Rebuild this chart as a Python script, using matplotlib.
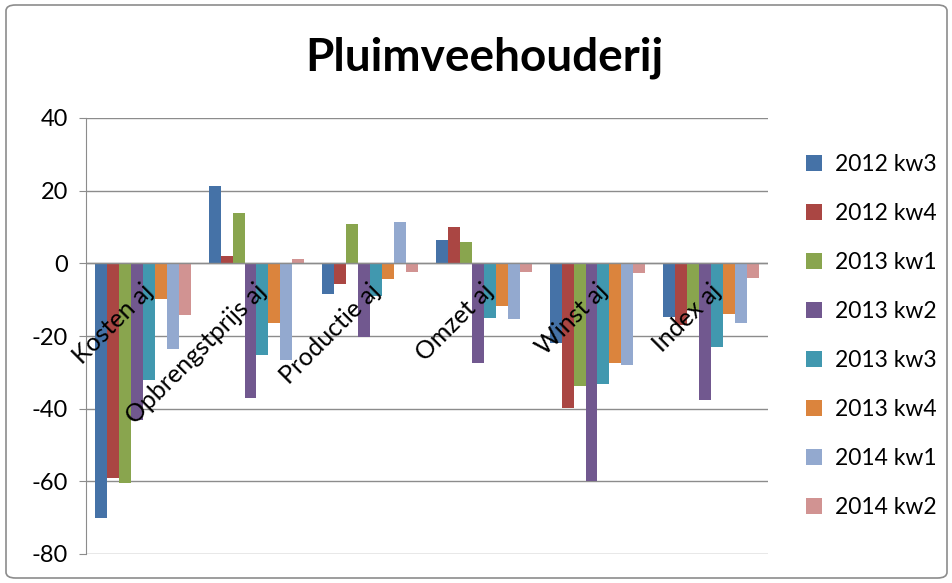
import matplotlib.pyplot as plt
import numpy as np
from matplotlib.patches import FancyBboxPatch

plt.rcParams['font.family'] = ['Lato', 'DejaVu Sans']
plt.rcParams['axes.unicode_minus'] = False

categories = ["Kosten aj", "Opbrengstprijs aj", "Productie aj", "Omzet aj", "Winst aj", "Index aj"]
series = ["2012 kw3", "2012 kw4", "2013 kw1", "2013 kw2", "2013 kw3", "2013 kw4", "2014 kw1", "2014 kw2"]
kw3_2012 = [-70.0, 21.3, -8.5, 6.4, -21.9, -14.7]
kw4_2012 = [-59.0, 2.0, -5.7, 10.1, -39.7, -17.0]
kw1_2013 = [-60.4, 13.9, 10.7, 5.8, -33.8, -12.9]
kw2_2013 = [-43.2, -37.2, -20.2, -27.4, -60.0, -37.6]
kw3_2013 = [-32.1, -25.3, -8.9, -15.0, -33.3, -23.1]
kw4_2013 = [-9.9, -16.4, -4.4, -11.8, -27.4, -14.0]
kw1_2014 = [-23.7, -26.6, 11.5, -15.3, -28.0, -16.3]
kw2_2014 = [-14.2, 1.2, -2.3, -2.3, -2.6, -4.0]
values = [kw3_2012, kw4_2012, kw1_2013, kw2_2013, kw3_2013, kw4_2013, kw1_2014, kw2_2014]

colors = ['#4572A7', '#AA4643', '#89A54E', '#71588F', '#4198AF', '#DB843D', '#93A9CF', '#D19392']

fig = plt.figure(figsize=(9.53, 5.83), dpi=100)
ax = fig.add_axes([86/953, 1-554/583, (768-86)/953, (554-118)/583])

x = np.arange(len(categories))
w = 1 / 9.5
for i, (name, vals) in enumerate(zip(series, values)):
    ax.bar(x + (i - 3.5) * w, vals, width=w, color=colors[i], label=name, zorder=3)

ax.set_xlim(-0.5, len(categories) - 0.5)
ax.set_ylim(-80, 40)
ax.set_yticks(range(-80, 41, 20))
ax.yaxis.grid(True, color='#8c8c8c', linewidth=1, zorder=0)
ax.axhline(0, color='#8c8c8c', linewidth=1, zorder=4)
ax.tick_params(axis='y', labelsize=17, length=5, color='#8c8c8c', pad=8)
ax.set_xticks([])
for side in ['top', 'right', 'bottom']:
    ax.spines[side].set_visible(False)
ax.spines['left'].set_color('#8c8c8c')

# category labels, rotated like excel
for xi, cat in zip(x, categories):
    ax.annotate(cat, xy=(xi, 0), xytext=(6, -24), textcoords='offset pixels',
                rotation=45, rotation_mode='anchor', ha='right', va='center',
                fontsize=18, zorder=5)

fig.text(484/953, 1-58/583, "Pluimveehouderij", ha='center', va='center',
         fontsize=33, fontweight='bold')

handles, labels = ax.get_legend_handles_labels()
fig.legend(handles, labels, loc='center left', bbox_to_anchor=(785/953, 1-336/583),
           frameon=False, fontsize=16.5, labelspacing=1.22, handlelength=0.7,
           handleheight=0.7, handletextpad=0.6)

border = FancyBboxPatch((6/953, 5/583), 941/953, 573/583, boxstyle='round,pad=0,rounding_size=0.01',
                        transform=fig.transFigure, fill=False, edgecolor='#8c8c8c', linewidth=1.2)
fig.patches.append(border)

fig.savefig('out.png', dpi=100)
